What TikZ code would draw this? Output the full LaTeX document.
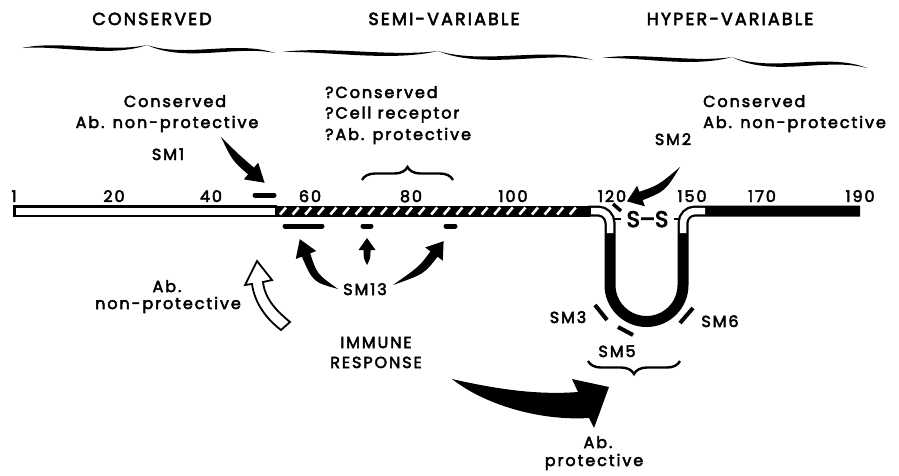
\documentclass[tikz,border=0pt]{standalone}
\usepackage{fontspec}
\setmainfont{Poppins}[LetterSpace=12,RawFeature={embolden=3}]
\newfontfamily\ssfont{Poppins}[RawFeature={embolden=4}]
\usetikzlibrary{calc,decorations.pathreplacing}
\newcommand\calbrace[6]{%
\fill (#1,#2) .. controls ({#1+0.3*(#3-#1)},{#4-5}) and ({#3-0.3*(#3-#1)},{#2+5}) .. (#3,#4)
  .. controls ({#3-0.3*(#3-#1)},{#2+10}) and ({#1+0.3*(#3-#1)},{#4}) .. (#1,#2) -- cycle;
\fill (#5,#6) .. controls ({#5-0.3*(#5-#3)},{#4-5}) and ({#3+0.3*(#5-#3)},{#6+5}) .. (#3,#4)
  .. controls ({#3+0.3*(#5-#3)},{#6+10}) and ({#5-0.3*(#5-#3)},{#4}) .. (#5,#6) -- cycle;}
\newcommand\taparrow[6]{% tail, control, base, body half, head half, head length
\coordinate (T) at (#1); \coordinate (C) at (#2); \coordinate (B) at (#3);
\fill (T) .. controls ($(C)!#4!90:(T)$) .. ($(B)!#4!90:(C)$) -- ($(B)!#5!90:(C)$)
  -- ($(B)!#6!180:(C)$) -- ($(B)!#5!-90:(C)$) -- ($(B)!#4!-90:(C)$)
  .. controls ($(C)!#4!-90:(T)$) .. (T) -- cycle;}
\begin{document}
\begin{tikzpicture}[x=1pt,y=-1pt,
  font=\fontsize{16}{19}\selectfont,
  txt/.style={inner sep=0pt,anchor=base},
  txtl/.style={inner sep=0pt,anchor=base west},
  head/.style={inner sep=0pt,anchor=base,font=\fontsize{17.5}{20}\selectfont},
  smbar/.style={line width=5pt,line cap=round},
  smtick/.style={line width=4pt},
  cbrace/.style={line width=2.4pt,decorate,decoration={brace,amplitude=13pt}}]
\useasboundingbox[fill=white] (0,0) rectangle (899,475);
% headers
\node[head] (hcons) at (152,25) {CONSERVED};
\node[head] (hsemi) at (444,25) {SEMI-VARIABLE};
\node[head] (hhyp) at (730,25) {HYPER-VARIABLE};
\calbrace{22}{48}{147}{45}{275}{53}
\calbrace{282}{52}{438}{51}{593}{60}
\calbrace{602}{58}{732}{57}{867}{68}
% labels
\node[txt] (lcons) at (175,107) {Conserved};
\node[txt] (labnp) at (167,128) {Ab. non-protective};
\node[txt] (sm1) at (168,160) {SM1};
\node[txtl] (q1) at (325,98) {?Conserved};
\node[txtl] (q2) at (325,118.5) {?Cell receptor};
\node[txtl] (q3) at (325,140) {?Ab. protective};
\node[txtl] (rcons) at (703,107) {Conserved};
\node[txtl] (rabnp) at (703,128) {Ab. non-protective};
\node[txt] (sm2) at (673,145) {SM2};
% numbers
\foreach \n/\x in {1/14,20/114,40/211,60/310,80/411,100/513,120/612,150/692,170/762,190/860}
  \node[txt] (n\n) at (\x,202) {\n};
% chain
\draw[line width=2.5pt,fill=white] (14.25,206.25) rectangle (276,215.75);
\fill (275,205.5) rectangle (590,216.5);
\foreach \i in {0,...,23}
  \draw[white,line width=2.6pt] ({280+12.6*\i},214.5) -- ({286+12.6*\i},207.5);
\draw[line width=11pt] (588,211) -- (598,211) arc[start angle=270,end angle=360,radius=12]
  -- (610,285) arc[start angle=180,end angle=0,radius=36.5] -- (683,223)
  arc[start angle=180,end angle=270,radius=12] -- (860,211);
\draw[white,line width=6.5pt] (591,211) -- (598,211) arc[start angle=270,end angle=360,radius=12] -- (610,233);
\draw[white,line width=6.5pt] (683,233) -- (683,223) arc[start angle=180,end angle=270,radius=12] -- (705,211);
\node[inner sep=0pt,anchor=base,font=\ssfont\fontsize{22.5}{22}\selectfont] (ss) at (647.5,227) {S–S};
\draw[line width=2pt] (614,219) -- (621,219);
\draw[line width=2pt] (674,219) -- (679,219);
% marks
\draw[smbar] (255,195) -- (274,195);
\draw[smbar] (285,226) -- (322,226);
\draw[smbar] (363,226) -- (371,226);
\draw[smbar] (446,226) -- (455,226);
\draw[line width=3.5pt] (613,204) -- (621,211);
\draw[smtick] (595,305) -- (607,320);
\draw[smtick] (618,327) -- (633,335);
\draw[smtick] (680,323) -- (693,308);
\draw[cbrace] (362,180) -- (453,180);
\draw[cbrace,decoration={mirror}] (588,361) -- (680,361);
% arrows
\taparrow{221,137}{236,158}{251,171}{4.5pt}{11pt}{18pt}
\taparrow{680,167}{662,188}{641,196}{4.5pt}{11pt}{15pt}
\taparrow{338,289}{315,278}{306,255}{4.5pt}{11pt}{17pt}
\taparrow{367,265}{367,258}{367,250}{3.5pt}{8.5pt}{12pt}
\taparrow{393,285}{422,270}{434,254}{4.5pt}{11pt}{16pt}
\draw[line width=1.8pt,fill=white,line join=miter] (252,284) -- (245,285) -- (257,261) -- (272,280) -- (263,282)
  .. controls (265,300) and (278,312) .. (290,322) -- (281,330)
  .. controls (268,320) and (255,305) .. (252,284) -- cycle;
\fill (452,379) .. controls (500,390) and (540,395) .. (578,392) -- (572,379) -- (609,387)
  -- (594,428) -- (589,418) .. controls (540,421) and (485,405) .. (452,379) -- cycle;
% lower texts
\node[txt] (sm13) at (365,295) {SM13};
\node[txt] (ab1) at (167,292) {Ab.};
\node[txt] (np1) at (168,309) {non-protective};
\node[txt] (imm) at (376,348) {IMMUNE};
\node[txt] (resp) at (376,368) {RESPONSE};
\node[txt] (sm3) at (568,323) {SM3};
\node[txt] (sm6) at (720,327) {SM6};
\node[txt] (sm5) at (617,357) {SM5};
\node[txt] (ab2) at (598,448) {Ab.};
\node[txt] (prot) at (594,466) {protective};
\end{tikzpicture}
\end{document}
